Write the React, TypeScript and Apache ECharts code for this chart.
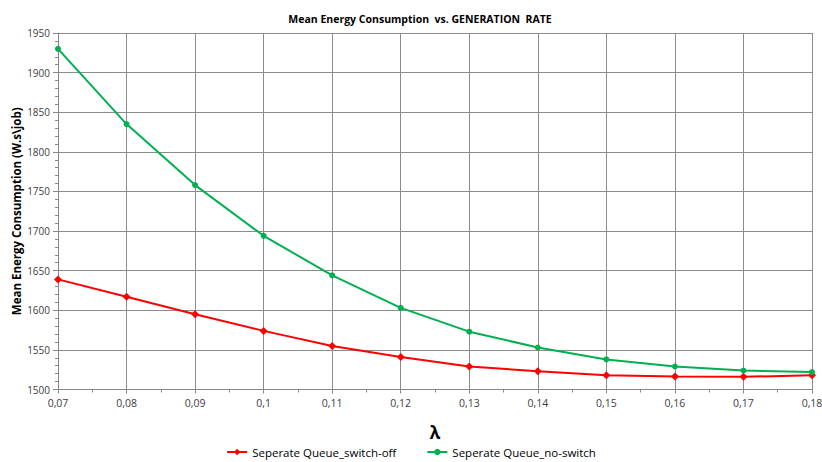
import React, { useEffect, useRef } from "react";
import * as echarts from "echarts";

const xValues = [0.07, 0.08, 0.09, 0.1, 0.11, 0.12, 0.13, 0.14, 0.15, 0.16, 0.17, 0.18];
const switchOff = [1639, 1617, 1595, 1574, 1555, 1541, 1529, 1523, 1518, 1516.5, 1516, 1518];
const noSwitch = [1930, 1835, 1758, 1694, 1644, 1603, 1573, 1553, 1538, 1529, 1524, 1522];
const seriesNames = ["Seperate Queue_switch-off", "Seperate Queue_no-switch"];
const titleText = "Mean Energy Consumption  vs. GENERATION  RATE";
const yName = "Mean Energy Consumption (W.s\\job)";
const xName = "λ";

const FONT = "'Open Sans', 'Noto Sans', sans-serif";

export default function App() {
  const ref = useRef<HTMLDivElement>(null);
  useEffect(() => {
    if (!ref.current) return;
    const chart = echarts.init(ref.current, null, { renderer: "svg" });
    const fmtX = (v: number) => String(+v.toFixed(2)).replace(".", ",");
    const fmtY = (v: number) => String(Math.round(v));
    chart.setOption({
      animation: false,
      backgroundColor: "#ffffff",
      title: {
        text: titleText,
        left: 415,
        textAlign: "center",
        top: 8,
        textStyle: { fontFamily: FONT, fontSize: 10.5, fontWeight: "bold", color: "#000" },
      },
      legend: {
        bottom: -1,
        left: "center",
        itemGap: 30,
        itemWidth: 20,
        itemHeight: 8,
        textStyle: { fontFamily: FONT, fontSize: 11.5, color: "#000" },
        data: seriesNames,
      },
      grid: { left: 58, right: 10, top: 33, bottom: 72.5, containLabel: false, outerBoundsMode: "none" },
      xAxis: {
        type: "value",
        min: 0.07,
        max: 0.18,
        interval: 0.01,
        name: xName,
        nameLocation: "middle",
        nameGap: 34,
        nameMoveOverlap: false,
        nameTextStyle: { fontFamily: FONT, fontSize: 17, fontWeight: "bold", color: "#000" },
        axisLine: { show: true, lineStyle: { color: "#868686", width: 1 } },
        axisTick: { show: true, inside: false, length: 4, lineStyle: { color: "#868686" } },
        minorTick: { show: true, splitNumber: 2, length: 3, lineStyle: { color: "#868686" } },
        splitLine: { show: true, lineStyle: { color: "#8c8c8c", width: 1 } },
        axisLabel: {
          formatter: fmtX,
          fontFamily: FONT,
          fontSize: 10.5,
          color: "#404040",
          margin: 8,
        },
      },
      yAxis: {
        type: "value",
        min: 1500,
        max: 1950,
        interval: 50,
        name: yName,
        nameLocation: "middle",
        nameGap: 36,
        nameMoveOverlap: false,
        nameTextStyle: { fontFamily: FONT, fontSize: 11.5, fontWeight: "bold", color: "#000" },
        axisLine: { show: true, lineStyle: { color: "#868686", width: 1 } },
        axisTick: { show: true, inside: false, length: 5, lineStyle: { color: "#868686" } },
        minorTick: { show: true, splitNumber: 5, length: 3, lineStyle: { color: "#868686" } },
        splitLine: { show: true, lineStyle: { color: "#8c8c8c", width: 1 } },
        axisLabel: {
          formatter: fmtY,
          fontFamily: FONT,
          fontSize: 10,
          color: "#404040",
          margin: 8,
        },
      },
      series: [
        {
          name: seriesNames[0],
          type: "line",
          data: xValues.map((x, i) => [x, switchOff[i]]),
          symbol: "diamond",
          symbolSize: 8,
          itemStyle: { color: "#ff0000" },
          lineStyle: { color: "#ff0000", width: 2 },
        },
        {
          name: seriesNames[1],
          type: "line",
          data: xValues.map((x, i) => [x, noSwitch[i]]),
          symbol: "circle",
          symbolSize: 6,
          itemStyle: { color: "#00b050" },
          lineStyle: { color: "#00b050", width: 2 },
        },
      ],
    });
    return () => chart.dispose();
  }, []);
  return <div ref={ref} style={{ width: 822, height: 462, position: "absolute", left: 0, top: 0 }} />;
}
